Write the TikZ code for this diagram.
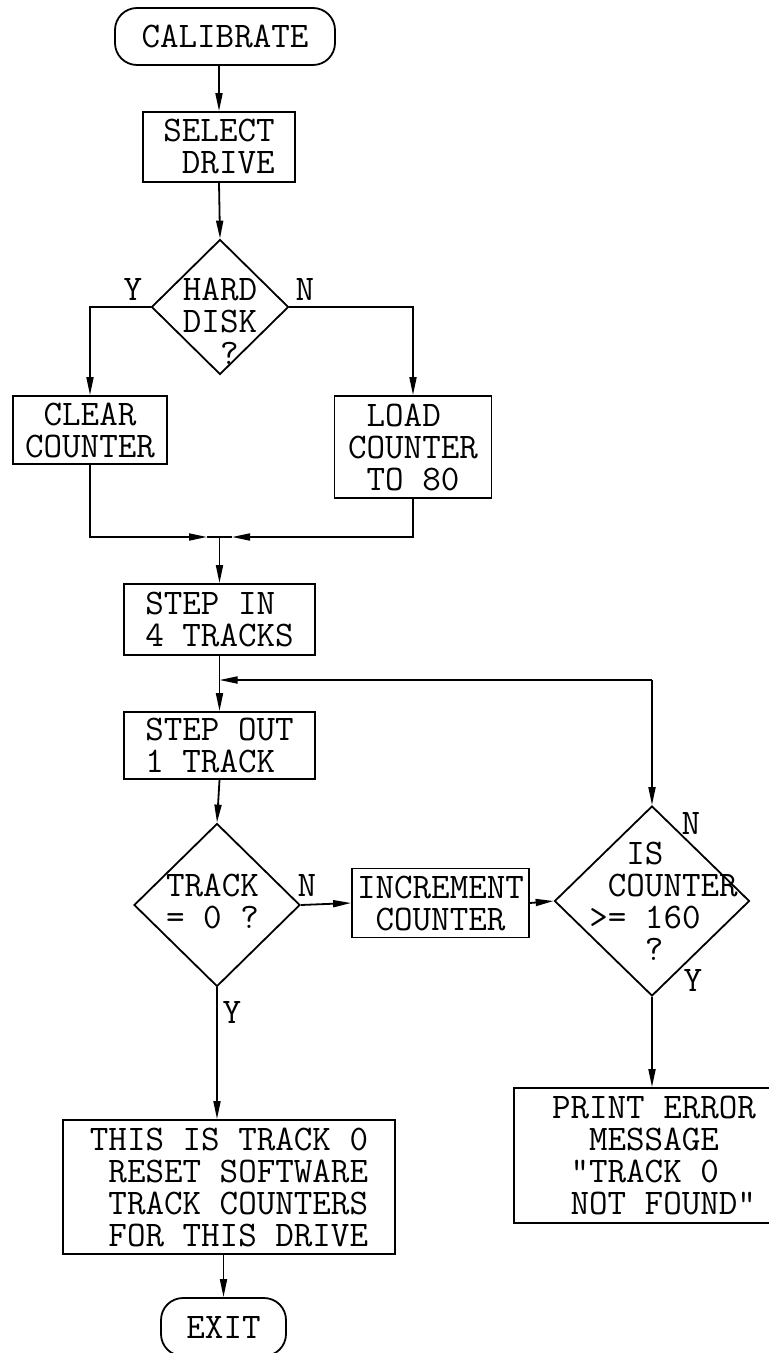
\documentclass[tikz,border=0pt]{standalone}
\usepackage{fontspec}
\usetikzlibrary{shapes.geometric,arrows.meta}

\begin{document}
\begin{tikzpicture}
[x=0.5pt,y=-0.5pt,
  textdecorate/.style={font=\ttfamily\fontsize{18}{16}\selectfont,inner sep=0pt,align=left},
  boxdecorate/.style={shape=rectangle,draw,line width=0.9pt,textdecorate},
  termdecorate/.style={boxdecorate,rounded corners=11pt},
  decidedecorate/.style={shape=diamond,draw,line width=0.9pt,inner sep=0pt},
  linedecorate/.style={-{Triangle[length=9pt,width=3.5pt]},line width=0.9pt},
  plaindecorate/.style={-,line width=0.9pt}]
\useasboundingbox (0,0) rectangle (769,1353);
%% start and end
\node (calib) at (225,36.5) [termdecorate,minimum width=110pt,minimum height=28.5pt] {CALIBRATE};
\node (exit) at (223.5,1327) [termdecorate,minimum width=62.5pt,minimum height=29pt] {EXIT};
%% process boxes
\node (sel) at (219,147) [boxdecorate,minimum width=76pt,minimum height=35pt] {SELECT\\\hphantom{0}DRIVE};
\node (clear) at (90,430) [boxdecorate,minimum width=77pt,minimum height=34pt] {\hphantom{0}CLEAR\\COUNTER};
\node (load) at (413,447) [boxdecorate,minimum width=78.5pt,minimum height=51pt] {\hphantom{0}LOAD\\COUNTER\\\hphantom{0}TO 80};
\node (stepin) at (219.5,619.5) [boxdecorate,minimum width=95.5pt,minimum height=35.5pt] {STEP IN\\4 TRACKS};
\node (stepout) at (219.5,745.5) [boxdecorate,minimum width=95.5pt,minimum height=33.5pt] {STEP OUT\\1 TRACK};
\node (incr) at (440.5,903) [boxdecorate,minimum width=88.5pt,minimum height=34.5pt] {INCREMENT\\\hphantom{0}COUNTER};
\node (this) at (229,1187) [boxdecorate,minimum width=166pt,minimum height=67pt] {THIS IS TRACK 0\\\hphantom{0}RESET SOFTWARE\\\hphantom{0}TRACK COUNTERS\\\hphantom{0}FOR THIS DRIVE};
\node (print) at (654,1155.5) [boxdecorate,minimum width=140pt,minimum height=67.5pt] {PRINT ERROR\\\hphantom{00}MESSAGE\\\hphantom{0}"TRACK 0\\\hphantom{0}NOT FOUND"};
%% decisions, text set apart
\foreach \nodename/\x/\y/\w/\h in {hard/220/307/68.5/67.5, trk/217/905/83/81.5, isc/652/901/97.5/95} {
  \node (\nodename) at (\x,\y) [decidedecorate,minimum width=\w*1pt,minimum height=\h*1pt] {};
}
\node (hardtext) at (220,321) [textdecorate] {HARD\\DISK\\\hphantom{00}?};
\node (trktext) at (212.5,901) [textdecorate] {TRACK\\= 0 ?};
\node (isctext) at (663.5,901) [textdecorate] {\hphantom{00}IS\\\hphantom{0}COUNTER\\>= 160\\\hphantom{000}?};
%% branch labels
\foreach \nodename/\x/\y/\t in {hardy/133/290/Y, hardn/305/290/N, trkn/307/885/N, trky/232/1012/Y, iscn/691/823/N, iscy/693/980/Y} {
  \node (\nodename) at (\x,\y) [textdecorate] {\t};
}
%% junctions
\coordinate (merge) at (219.5,537);
\coordinate (mergel) at (207,537);
\coordinate (merger) at (232,537);
\coordinate (loopc) at (652,680);
%% edges or lines
\path
(sel.north |- calib.south) edge[linedecorate] (sel.north)
(sel.south) edge[linedecorate] (hard.north)
(mergel) edge[plaindecorate] (merger)
(merge) edge[linedecorate] (stepin.north)
(stepin.south) edge[linedecorate] (stepout.north)
(loopc) edge[linedecorate] (loopc -| stepin)
(loopc) edge[linedecorate] (isc.north)
(stepout.south) edge[linedecorate] (trk.north)
(trk.east) edge[linedecorate] (incr.west)
(incr.east) edge[linedecorate] (isc.west)
(trk.south) edge[linedecorate] (trk.south |- this.north)
(isc.south) edge[linedecorate] (isc.south |- print.north)
(exit.north |- this.south) edge[linedecorate] (exit.north);
\draw[linedecorate] (hard.west) -| (clear.north);
\draw[linedecorate] (hard.east) -| (load.north);
\draw[linedecorate] (clear.south) |- (mergel);
\draw[linedecorate] (load.south) |- (merger);
\end{tikzpicture}
\end{document}
